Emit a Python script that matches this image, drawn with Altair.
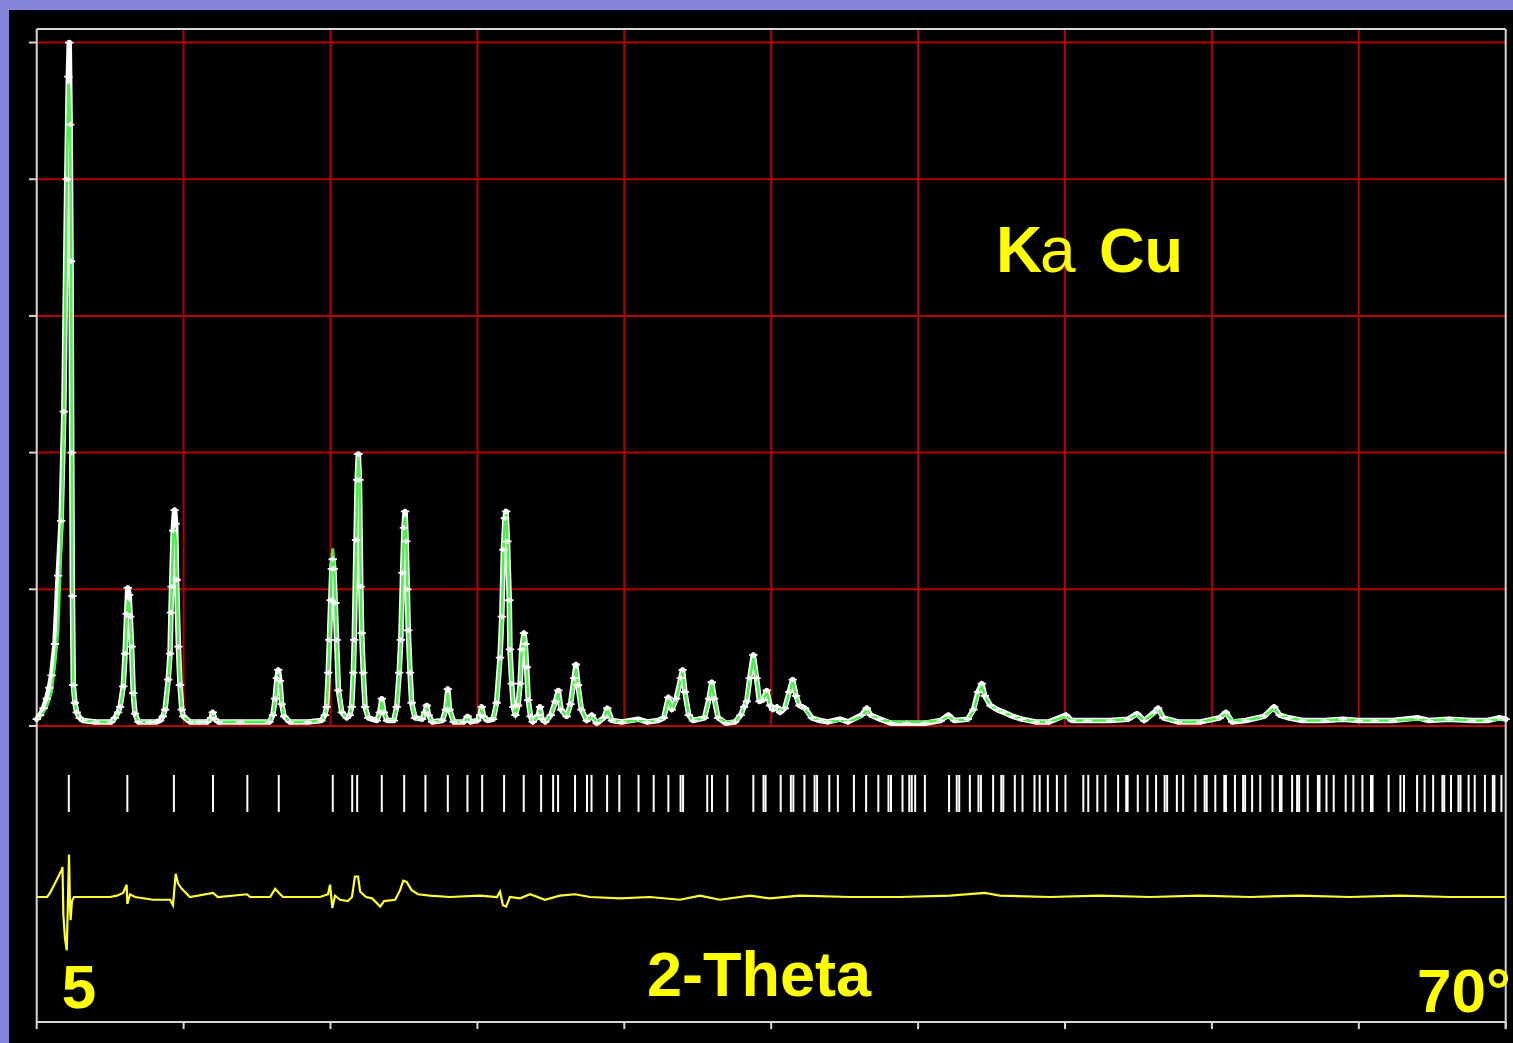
import altair as alt
import pandas as pd

# ---------------- data ----------------
two_theta = [
    5.00, 5.15, 5.30, 5.44, 5.56, 5.66, 5.81, 5.95, 6.08, 6.20, 6.33, 6.40, 6.44, 6.48, 6.52, 6.55, 6.58, 6.62, 6.69, 6.77, 6.90, 7.05, 7.60,
    8.30, 8.46, 8.60, 8.69, 8.83, 8.91, 8.98, 9.03, 9.09, 9.14, 9.20, 9.27, 9.35, 9.50, 10.00,
    10.30, 10.46, 10.58, 10.68, 10.82, 10.90, 10.94, 10.97, 11.04, 11.10, 11.15, 11.19, 11.27, 11.34, 11.42, 11.49, 11.78,
    12.20, 12.55, 12.72, 12.79, 12.88, 13.05, 14.00, 15.30, 15.45, 15.55, 15.63, 15.69, 15.76, 15.84, 15.95, 16.20,
    17.00, 17.60, 17.75, 17.83, 17.90, 17.95, 18.01, 18.06, 18.10, 18.15,
    18.21, 18.27, 18.35, 18.50, 18.72, 18.85, 18.94, 19.01, 19.05, 19.13,
    19.18, 19.23, 19.28, 19.34, 19.38, 19.45, 19.53, 19.67, 19.85,
    20.05, 20.18, 20.27, 20.36, 20.50, 20.80, 20.93, 21.04, 21.11, 21.19, 21.25, 21.30, 21.35, 21.40, 21.44, 21.52, 21.59, 21.74,
    22.05, 22.18, 22.26, 22.34, 22.50, 22.95, 23.10, 23.19, 23.27, 23.45, 23.90, 24.07, 24.20, 24.50, 24.62, 24.69, 24.77, 24.95,
    25.20, 25.35, 25.50, 25.58, 25.65, 25.72, 25.77, 25.83, 25.91, 25.94,
    26.02, 26.09, 26.18, 26.30, 26.39, 26.46, 26.56, 26.62, 26.68, 26.75,
    26.85, 26.95,
    27.20, 27.27, 27.36, 27.50, 27.75, 27.95, 28.08, 28.20, 28.45,
    28.62, 28.78, 28.86, 28.95, 29.10, 29.34, 29.56, 29.78, 30.10, 30.25,
    30.45, 30.90, 31.61, 32.00, 32.50, 32.75, 32.95, 33.10, 33.30, 33.50,
    33.58, 33.68, 33.85, 34.04, 34.55, 34.75, 34.87, 34.98, 35.15, 35.50,
    35.90, 36.15, 36.30, 36.42, 36.55, 36.71, 36.85, 36.98, 37.14, 37.30,
    37.45, 37.58, 37.75, 37.89, 38.10, 38.30, 38.45, 38.60, 38.75, 39.00,
    39.30, 39.66, 40.00, 40.54, 40.90, 41.50, 41.73, 41.90, 42.32, 42.80,
    43.50, 44.30, 45.00, 45.34, 45.60, 46.20, 46.45, 46.65, 46.82, 46.95,
    47.20, 47.50, 47.80, 48.20, 48.60, 49.20, 49.80, 50.54, 50.80, 51.50,
    52.50, 53.30, 53.69, 54.00, 54.45, 54.62, 54.85, 55.50, 56.50, 57.35,
    57.62, 57.90, 58.50, 59.30, 59.75, 60.00, 60.40, 61.00, 62.00, 62.80,
    63.50, 64.20, 65.00, 66.12, 66.60, 67.50, 68.50, 69.20, 69.70, 70.00,
]
y_obs = [
    0.05, 0.08, 0.13, 0.20, 0.28, 0.37, 0.60, 1.10, 1.50, 2.30, 4.00, 4.75, 5.00, 4.40, 3.40, 2.00, 0.95, 0.30, 0.17, 0.10, 0.06, 0.04, 0.03,
    0.03, 0.06, 0.10, 0.14, 0.29, 0.53, 0.82, 1.01, 0.96, 0.80, 0.58, 0.24, 0.09, 0.03, 0.03,
    0.03, 0.04, 0.07, 0.12, 0.34, 0.53, 0.83, 1.02, 1.43, 1.58, 1.48, 1.07, 0.58, 0.30, 0.12, 0.07, 0.03,
    0.03, 0.03, 0.06, 0.10, 0.05, 0.03, 0.03, 0.03, 0.08, 0.20, 0.35, 0.41, 0.33, 0.16, 0.07, 0.03,
    0.03, 0.04, 0.08, 0.14, 0.39, 0.63, 0.92, 1.15, 1.22, 1.15,
    0.90, 0.63, 0.26, 0.10, 0.06, 0.08, 0.14, 0.39, 0.63, 1.36,
    1.80, 1.99, 1.80, 1.02, 0.68, 0.39, 0.14, 0.06, 0.05,
    0.04, 0.10, 0.20, 0.10, 0.04, 0.04, 0.14, 0.39, 0.63, 1.12, 1.45, 1.57, 1.35, 1.00, 0.70, 0.39, 0.17, 0.06,
    0.05, 0.10, 0.15, 0.08, 0.03, 0.04, 0.12, 0.27, 0.12, 0.03, 0.03, 0.07, 0.03, 0.04, 0.08, 0.14, 0.07, 0.04,
    0.05, 0.17, 0.50, 0.80, 1.29, 1.52, 1.57, 1.35, 0.92, 0.56,
    0.31, 0.14, 0.08, 0.15, 0.31, 0.56, 0.68, 0.60, 0.43, 0.19,
    0.07, 0.03,
    0.08, 0.14, 0.05, 0.03, 0.08, 0.18, 0.26, 0.12, 0.07,
    0.16, 0.35, 0.45, 0.30, 0.12, 0.04, 0.08, 0.02, 0.06, 0.13,
    0.04, 0.03, 0.05, 0.03, 0.04, 0.06, 0.21, 0.12, 0.20, 0.35,
    0.41, 0.25, 0.08, 0.04, 0.06, 0.20, 0.32, 0.20, 0.06, 0.02,
    0.03, 0.08, 0.14, 0.18, 0.35, 0.52, 0.35, 0.18, 0.19, 0.26,
    0.15, 0.12, 0.14, 0.10, 0.13, 0.25, 0.34, 0.22, 0.15, 0.13,
    0.06, 0.04, 0.03, 0.05, 0.03, 0.08, 0.13, 0.08, 0.05, 0.02,
    0.02, 0.02, 0.04, 0.08, 0.04, 0.05, 0.12, 0.25, 0.31, 0.22,
    0.15, 0.12, 0.10, 0.07, 0.05, 0.03, 0.03, 0.08, 0.04, 0.04,
    0.04, 0.05, 0.09, 0.04, 0.10, 0.13, 0.06, 0.03, 0.03, 0.06,
    0.10, 0.03, 0.04, 0.07, 0.14, 0.08, 0.06, 0.04, 0.04, 0.05,
    0.04, 0.04, 0.04, 0.06, 0.04, 0.05, 0.04, 0.04, 0.06, 0.05,
]
y_calc = [
    0.04, 0.06, 0.10, 0.14, 0.19, 0.25, 0.45, 0.70, 1.30, 2.20, 4.00, 4.70, 4.65, 4.30, 3.60, 2.10, 1.00, 0.27, 0.16, 0.10, 0.06, 0.04, 0.03,
    0.03, 0.05, 0.09, 0.13, 0.28, 0.50, 0.78, 0.91, 0.90, 0.78, 0.58, 0.25, 0.09, 0.03, 0.03,
    0.03, 0.04, 0.07, 0.12, 0.32, 0.50, 0.80, 1.00, 1.42, 1.45, 1.35, 1.10, 0.60, 0.30, 0.12, 0.07, 0.03,
    0.03, 0.03, 0.06, 0.09, 0.05, 0.03, 0.03, 0.03, 0.08, 0.19, 0.34, 0.38, 0.33, 0.16, 0.07, 0.03,
    0.03, 0.04, 0.08, 0.14, 0.38, 0.62, 0.95, 1.25, 1.30, 1.22,
    0.92, 0.62, 0.27, 0.10, 0.06, 0.08, 0.14, 0.38, 0.60, 1.30,
    1.75, 1.97, 1.85, 1.05, 0.66, 0.38, 0.14, 0.06, 0.05,
    0.04, 0.09, 0.18, 0.10, 0.04, 0.04, 0.14, 0.38, 0.62, 1.10, 1.45, 1.53, 1.40, 1.00, 0.70, 0.38, 0.17, 0.06,
    0.05, 0.10, 0.14, 0.08, 0.03, 0.04, 0.11, 0.24, 0.12, 0.03, 0.03, 0.06, 0.03, 0.04, 0.08, 0.13, 0.07, 0.04,
    0.05, 0.16, 0.48, 0.78, 1.28, 1.52, 1.55, 1.36, 0.92, 0.56,
    0.30, 0.14, 0.08, 0.15, 0.30, 0.55, 0.66, 0.60, 0.42, 0.19,
    0.07, 0.03,
    0.07, 0.12, 0.05, 0.03, 0.08, 0.17, 0.24, 0.12, 0.07,
    0.15, 0.33, 0.42, 0.30, 0.12, 0.04, 0.07, 0.03, 0.06, 0.12,
    0.04, 0.03, 0.04, 0.03, 0.04, 0.06, 0.20, 0.12, 0.19, 0.34,
    0.40, 0.25, 0.08, 0.04, 0.06, 0.19, 0.31, 0.20, 0.06, 0.03,
    0.03, 0.08, 0.14, 0.19, 0.34, 0.50, 0.36, 0.19, 0.19, 0.25,
    0.15, 0.12, 0.14, 0.11, 0.13, 0.24, 0.33, 0.22, 0.15, 0.12,
    0.06, 0.04, 0.03, 0.04, 0.03, 0.07, 0.12, 0.08, 0.05, 0.03,
    0.03, 0.03, 0.04, 0.07, 0.04, 0.05, 0.11, 0.23, 0.29, 0.22,
    0.15, 0.12, 0.10, 0.07, 0.05, 0.03, 0.03, 0.07, 0.04, 0.04,
    0.04, 0.05, 0.08, 0.04, 0.09, 0.12, 0.06, 0.03, 0.03, 0.06,
    0.09, 0.04, 0.04, 0.07, 0.13, 0.08, 0.06, 0.04, 0.04, 0.05,
    0.04, 0.04, 0.04, 0.05, 0.04, 0.05, 0.04, 0.04, 0.05, 0.05,
]

bragg_positions = [
    6.42, 9.01, 11.07, 12.80, 14.32, 15.71, 18.10, 18.96, 19.18, 20.27,
    21.26, 22.20, 23.19, 24.06, 24.71, 25.68, 26.55, 27.32, 27.85, 28.07,
    28.82, 29.35, 29.55, 30.24, 30.78, 31.63, 32.30, 32.95, 33.49, 33.60,
    34.67, 34.88, 35.56, 36.71, 37.16, 37.25, 37.92, 38.37, 38.48, 38.97,
    39.42, 39.53, 40.07, 40.45, 41.16, 41.70, 42.24, 42.69, 42.80, 43.31,
    43.61, 43.72, 43.87, 44.30, 45.37, 45.71, 45.82, 46.29, 46.67, 46.78,
    47.32, 47.68, 47.77, 48.28, 48.62, 49.15, 49.38, 49.74, 50.14, 50.52,
    51.31, 51.53, 51.93, 52.29, 52.85, 53.21, 53.27, 53.72, 54.15, 54.53,
    54.91, 55.02, 55.45, 55.73, 56.27, 56.68, 56.77, 57.15, 57.55, 57.62,
    58.02, 58.38, 58.47, 58.78, 59.14, 59.68, 60.01, 60.08, 60.55, 60.77,
    60.86, 61.24, 61.69, 61.76, 62.07, 62.39, 62.92, 63.26, 63.66, 64.04,
    64.11, 64.82, 65.34, 65.50, 66.08, 66.41, 66.79, 67.20, 67.28, 67.58,
    67.91, 68.00, 68.36, 68.63, 69.08, 69.43, 69.50, 69.81,
]

diff_two_theta = [
    5.00, 5.46, 5.59, 5.90, 6.11, 6.14, 6.18, 6.25, 6.33, 6.38,
    6.43, 6.47, 6.50, 6.56, 6.65, 6.92, 8.24, 8.55, 8.82, 8.98,
    9.01, 9.13, 9.35, 10.15, 10.90, 11.03, 11.15, 11.25, 11.42, 11.78,
    12.80, 13.02, 14.31, 14.44, 15.33, 15.55, 15.72, 15.90, 17.54, 17.89,
    17.98, 18.08, 18.20, 18.42, 18.77, 18.95, 19.08, 19.22, 19.31, 19.57,
    19.84, 20.20, 20.37, 20.86, 21.08, 21.22, 21.37, 21.59, 21.87, 22.40,
    23.28, 24.61, 25.37, 25.50, 25.63, 25.77, 25.94, 26.39, 26.83, 27.49,
    28.15, 28.82, 29.48, 30.81, 32.13, 33.46, 34.35, 35.23, 36.56, 37.44,
    38.77, 40.98, 43.19, 45.40, 46.95, 47.62, 49.83, 52.04, 54.26, 56.47,
    58.68, 60.89, 63.10, 65.31, 67.53, 70.00,
]
diff_values = [
    0.00, 0.00, 0.03, 0.13, 0.20, 0.22, -0.13, -0.30, -0.39, -0.05,
    0.31, -0.05, -0.17, -0.03, 0.00, 0.00, 0.00, 0.01, 0.03, 0.09,
    -0.05, 0.02, 0.00, -0.02, -0.02, -0.06, 0.17, 0.10, 0.06, 0.00,
    0.03, 0.00, 0.02, 0.00, 0.00, 0.06, 0.03, 0.00, 0.00, 0.02,
    0.09, -0.08, 0.01, -0.02, -0.03, 0.00, 0.15, 0.15, 0.04, 0.00,
    -0.01, -0.07, -0.03, -0.02, 0.05, 0.12, 0.11, 0.05, 0.02, 0.01,
    0.00, 0.01, 0.00, 0.04, -0.06, -0.07, 0.00, -0.01, 0.02, -0.02,
    0.01, 0.02, 0.00, -0.01, 0.00, -0.02, 0.01, -0.02, 0.01, -0.01,
    0.01, 0.00, 0.00, 0.01, 0.03, 0.01, 0.00, 0.01, 0.00, 0.01,
    0.00, 0.01, 0.00, 0.01, 0.00, 0.00,
]

x_grid = [11.5, 18.0, 24.5, 31.0, 37.5, 44.0, 50.5, 57.0, 63.5]
x_ticks = [5.0, 11.5, 18.0, 24.5, 31.0, 37.5, 44.0, 50.5, 57.0, 63.5, 70.0]
y_grid = [0, 1, 2, 3, 4, 5]

# ---------------- layout (style/positions) ----------------
X_START, X_END = 5.0, 70.0
X_DOMAIN = [3.774, 70.323]
Y_DOMAIN = [-2.319, 5.238]
FRAME_TOP = 5.099
FRAME_BOTTOM = -2.165
TICK_BOTTOM = -2.217
LEFT_TICK_X = 4.66
BRAGG_TOP, BRAGG_BOTTOM = -0.358, -0.629
DIFF_OFFSET = -1.251

RED = "#b30000"
FRAME = "#d6d6d6"
GREEN = "#4cef4c"
YELLOW = "#ffff33"
TEXT_YELLOW = "#ffff00"
PURPLE = "#8585dc"

xs = alt.Scale(domain=X_DOMAIN, nice=False, zero=False)
ys = alt.Scale(domain=Y_DOMAIN, nice=False, zero=False)


def seg_chart(df, color, width):
    return alt.Chart(df).mark_rule(color=color, strokeWidth=width).encode(
        x=alt.X("x:Q", scale=xs, axis=None),
        x2="x2:Q",
        y=alt.Y("y:Q", scale=ys, axis=None),
        y2="y2:Q",
    )


grid_h = seg_chart(pd.DataFrame({"x": X_START, "x2": X_END, "y": y_grid, "y2": y_grid}), RED, 2)
grid_v = seg_chart(pd.DataFrame({"x": x_grid, "x2": x_grid, "y": 0.0, "y2": FRAME_TOP}), RED, 2)

frame_df = pd.DataFrame({
    "x": [X_START, X_START, X_START, X_END],
    "x2": [X_END, X_END, X_START, X_END],
    "y": [FRAME_TOP, FRAME_BOTTOM, FRAME_BOTTOM, TICK_BOTTOM],
    "y2": [FRAME_TOP, FRAME_BOTTOM, FRAME_TOP, FRAME_TOP],
})
frame = seg_chart(frame_df, FRAME, 2)
bottom_ticks = seg_chart(pd.DataFrame({"x": x_ticks, "x2": x_ticks, "y": FRAME_BOTTOM, "y2": TICK_BOTTOM}), FRAME, 2)
left_ticks = seg_chart(pd.DataFrame({"x": LEFT_TICK_X, "x2": X_START, "y": y_grid, "y2": y_grid}), FRAME, 2)

profile = pd.DataFrame({"tt": two_theta, "obs": y_obs, "calc": y_calc})

obs_line = alt.Chart(profile).mark_line(
    color="white", strokeWidth=5.5, strokeJoin="round", strokeCap="round"
).encode(x=alt.X("tt:Q", scale=xs, axis=None), y=alt.Y("obs:Q", scale=ys, axis=None))
calc_line = alt.Chart(profile).mark_line(color=GREEN, strokeWidth=2.6).encode(
    x=alt.X("tt:Q", scale=xs, axis=None), y=alt.Y("calc:Q", scale=ys, axis=None)
)
obs_points = alt.Chart(profile).mark_point(
    shape="M-1,0L1,0M0,-0.6L0,0.6", filled=False, color="white", size=70,
    strokeWidth=1.8, opacity=1,
).encode(x=alt.X("tt:Q", scale=xs, axis=None), y=alt.Y("obs:Q", scale=ys, axis=None))

bragg = seg_chart(
    pd.DataFrame({"x": bragg_positions, "x2": bragg_positions, "y": BRAGG_TOP, "y2": BRAGG_BOTTOM}),
    "white", 2,
)

diff_df = pd.DataFrame({"tt": diff_two_theta, "d": [v + DIFF_OFFSET for v in diff_values]})
diff_line = alt.Chart(diff_df).mark_line(color=YELLOW, strokeWidth=2.2).encode(
    x=alt.X("tt:Q", scale=xs, axis=None), y=alt.Y("d:Q", scale=ys, axis=None)
)


def label(text, x, y, size, weight="bold", align="left"):
    return alt.Chart(pd.DataFrame({"t": [text]})).mark_text(
        font="Liberation Sans", fontSize=size, fontWeight=weight, color=TEXT_YELLOW,
        align=align, baseline="alphabetic",
    ).encode(text="t:N", x=alt.value(x), y=alt.value(y))


texts = [
    label("5", 70, 998, 62, align="center"),
    label("2-Theta", 750, 986, 63, align="center"),
    label("70°", 1408, 1002, 62),
    label("K", 987, 262, 64),
    label("a", 1031, 262, 64, weight="normal"),
    label("Cu", 1090, 262, 63),
]

chart = alt.layer(
    grid_h, grid_v, frame, bottom_ticks, left_ticks,
    obs_line, calc_line, obs_points, bragg, diff_line, *texts,
).properties(
    width=1504, height=1033,
    background=PURPLE,
    padding={"left": 9, "top": 10, "right": 0, "bottom": 0},
    autosize="none",
).configure_view(fill="black", stroke=None)

chart.save("out.html", embed_options={"renderer": "svg", "actions": False})
